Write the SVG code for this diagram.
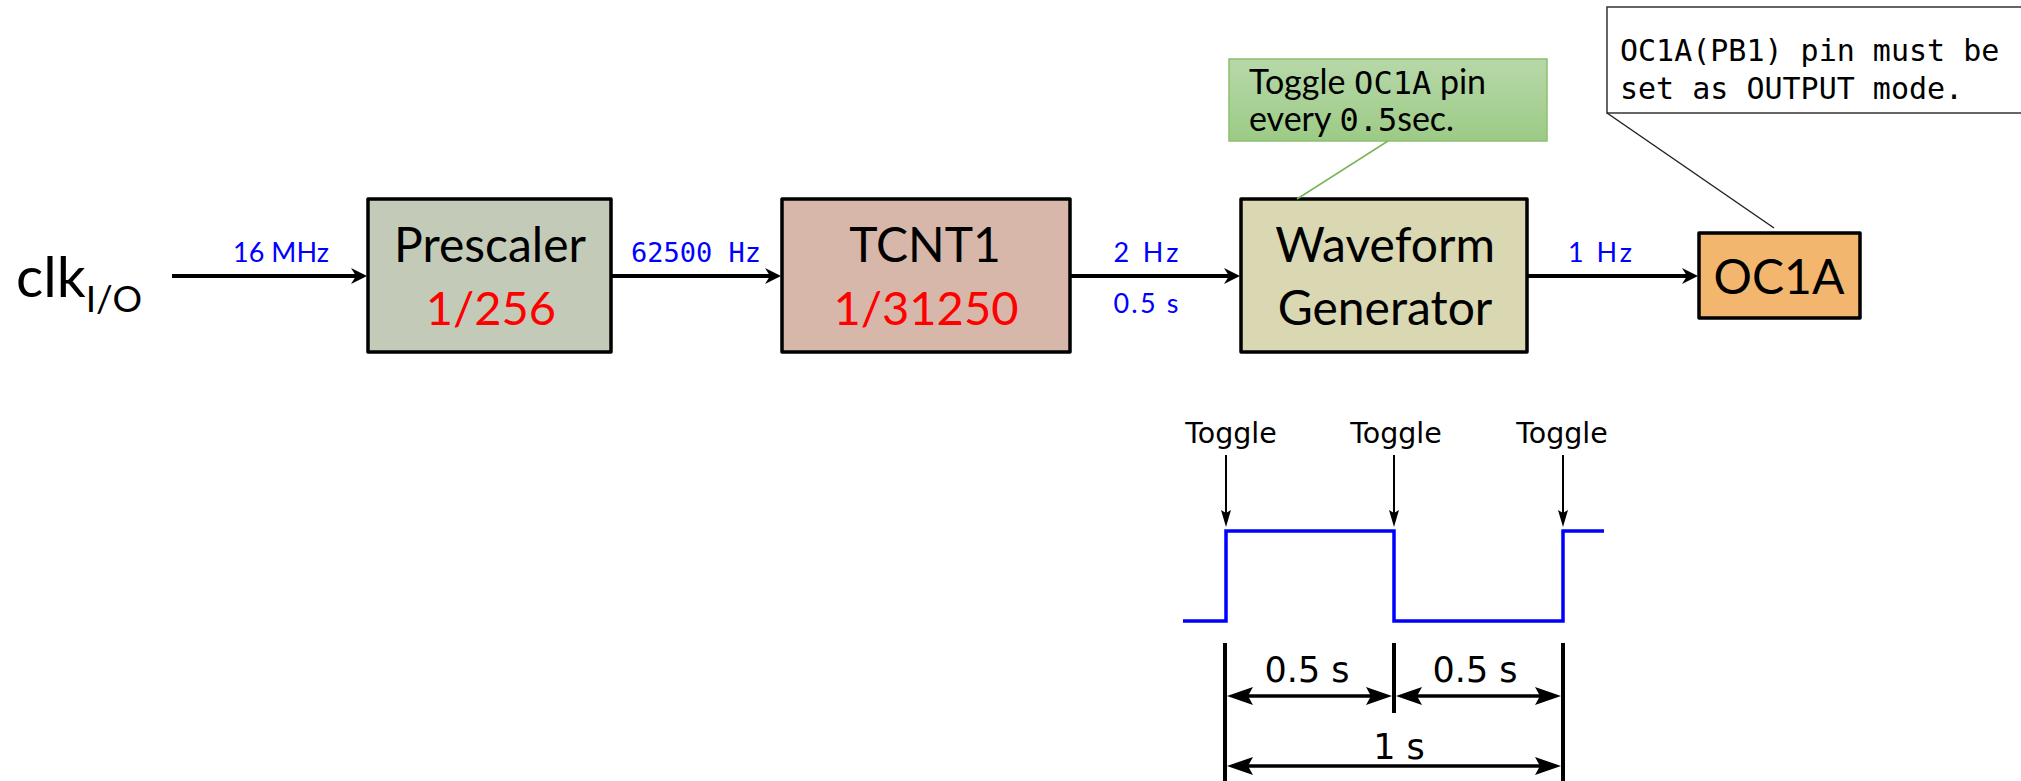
<svg xmlns="http://www.w3.org/2000/svg" width="2021" height="781" viewBox="0 0 2021 781">
<style>
.box{stroke:#000;stroke-width:3.5;stroke-linejoin:round}
.big{font-family:Lato,"Open Sans",sans-serif;font-size:48px;fill:#000;text-anchor:middle}
.red{font-family:Lato,"Open Sans",sans-serif;font-size:47px;fill:#ff0000;text-anchor:middle}
.lbl{font-family:Lato,"Open Sans",sans-serif;font-size:27px;fill:#0000ff;text-anchor:middle}
.mono{font-family:"DejaVu Sans Mono","Liberation Mono",monospace}
.conn{stroke:#000;stroke-width:4;fill:none}
.tg{font-family:"DejaVu Sans",Verdana,sans-serif;font-size:28.5px;fill:#000;text-anchor:middle}
.dim{font-family:"DejaVu Sans",Verdana,sans-serif;font-size:35px;fill:#000;text-anchor:middle}
.note{font-family:Lato,"Open Sans",sans-serif;font-size:34px;fill:#000}
</style>
<defs>
<marker id="ah" markerUnits="userSpaceOnUse" viewBox="0 0 16 16" refX="6" refY="8" markerWidth="16" markerHeight="16" orient="auto">
<path d="M16,8 L0,0 L5,8 L0,16 z" fill="#000"/>
</marker>
<marker id="ts" markerUnits="userSpaceOnUse" viewBox="0 0 17 10" refX="8" refY="5" markerWidth="17" markerHeight="10" orient="auto">
<path d="M17,5 L0,0 L3,5 L0,10 z" fill="#000"/>
</marker>
<marker id="da" markerUnits="userSpaceOnUse" viewBox="0 0 26 18" refX="12" refY="9" markerWidth="26" markerHeight="18" orient="auto-start-reverse">
<path d="M26,9 L0,0 L5,9 L0,18 z" fill="#000"/>
</marker>
<linearGradient id="gn" x1="0" y1="0" x2="0" y2="1">
<stop offset="0" stop-color="#b7d8a9"/>
<stop offset="1" stop-color="#9ccb86"/>
</linearGradient>
</defs>

<g id="clk">
<text x="16" y="297" font-family="Lato,'Open Sans',sans-serif" font-size="57" fill="#000">clk<tspan font-size="37" dy="15">I/O</tspan></text>
</g>

<g id="prescaler">
<rect class="box" x="368" y="199" width="243" height="153" fill="#c3cbb8"/>
<text class="big" x="490" y="262">Prescaler</text>
<text class="red" x="491" y="325">1/256</text>
</g>

<g id="tcnt1">
<rect class="box" x="782" y="199" width="288" height="153" fill="#d7b7aa"/>
<text class="big" x="925" y="262">TCNT1</text>
<text class="red" x="926" y="325">1/31250</text>
</g>

<g id="waveform">
<rect class="box" x="1241" y="199" width="286" height="153" fill="#d9d8b2"/>
<text class="big" x="1385" y="262">Waveform</text>
<text class="big" x="1385" y="325">Generator</text>
</g>

<g id="oc1a">
<rect class="box" x="1699" y="233" width="161" height="85" fill="#f3b66e"/>
<text class="big" x="1779" y="294" font-size="44">OC1A</text>
</g>

<g id="note-toggle">
<rect x="1229" y="59" width="318" height="82" fill="url(#gn)" stroke="#8cc06c" stroke-width="1.5"/>
<text class="note" x="1249" y="94">Toggle <tspan class="mono" font-size="32">OC1A</tspan> pin</text>
<text class="note" x="1249" y="131">every <tspan class="mono" font-size="32">0.5</tspan>sec.</text>
</g>

<g id="note-output">
<rect x="1607" y="7" width="430" height="106" fill="#fff" stroke="#333" stroke-width="1.5"/>
<text class="mono" x="1620" y="61" font-size="30" fill="#000">OC1A(PB1) pin must be</text>
<text class="mono" x="1620" y="99" font-size="30" fill="#000">set as OUTPUT mode.</text>
</g>

<g id="connectors">
<line class="conn" x1="172" y1="276" x2="357" y2="276" marker-end="url(#ah)"/>
<line class="conn" x1="611" y1="276" x2="771" y2="276" marker-end="url(#ah)"/>
<line class="conn" x1="1070" y1="276" x2="1230" y2="276" marker-end="url(#ah)"/>
<line class="conn" x1="1527" y1="276" x2="1688" y2="276" marker-end="url(#ah)"/>
<line x1="1388" y1="141" x2="1297" y2="199" stroke="#7ab55c" stroke-width="1.5"/>
<line x1="1607" y1="113" x2="1774" y2="228" stroke="#222" stroke-width="1.5"/>
</g>

<g id="conn-labels">
<text class="lbl" x="281" y="262">16 MHz</text>
<text class="lbl mono" x="696" y="262" font-size="32.5">62500 Hz</text>
<text class="lbl" x="1146" y="262" font-size="29" textLength="65" lengthAdjust="spacing">2 Hz</text>
<text class="lbl" x="1146" y="313" font-size="29" textLength="65" lengthAdjust="spacing">0.5 s</text>
<text class="lbl" x="1600" y="262" font-size="29" textLength="64" lengthAdjust="spacing">1 Hz</text>
</g>

<g id="timing">
<text class="tg" x="1231" y="443">Toggle</text>
<text class="tg" x="1396" y="443">Toggle</text>
<text class="tg" x="1562" y="443">Toggle</text>
<line x1="1226" y1="455" x2="1226" y2="518" stroke="#000" stroke-width="2" marker-end="url(#ts)"/>
<line x1="1394" y1="455" x2="1394" y2="518" stroke="#000" stroke-width="2" marker-end="url(#ts)"/>
<line x1="1563" y1="455" x2="1563" y2="518" stroke="#000" stroke-width="2" marker-end="url(#ts)"/>
<polyline points="1183,621 1226,621 1226,531 1394,531 1394,621 1563,621 1563,531 1604,531" fill="none" stroke="#0000ff" stroke-width="3.5"/>
<line x1="1225" y1="643" x2="1225" y2="781" stroke="#000" stroke-width="4"/>
<line x1="1394" y1="643" x2="1394" y2="713" stroke="#000" stroke-width="4"/>
<line x1="1563" y1="643" x2="1563" y2="781" stroke="#000" stroke-width="4"/>
<line x1="1241" y1="696" x2="1378" y2="696" stroke="#000" stroke-width="3.5" marker-start="url(#da)" marker-end="url(#da)"/>
<line x1="1410" y1="696" x2="1547" y2="696" stroke="#000" stroke-width="3.5" marker-start="url(#da)" marker-end="url(#da)"/>
<line x1="1241" y1="766" x2="1547" y2="766" stroke="#000" stroke-width="3.5" marker-start="url(#da)" marker-end="url(#da)"/>
<text class="dim" x="1307" y="682">0.5 s</text>
<text class="dim" x="1475" y="682">0.5 s</text>
<text class="dim" x="1399" y="759">1 s</text>
</g>
</svg>
